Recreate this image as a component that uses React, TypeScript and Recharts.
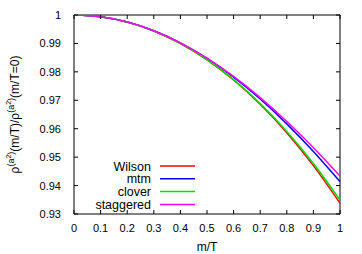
import React from "react";
import { LineChart, Line, XAxis, YAxis, ReferenceArea, Legend } from "recharts";

const mOverT = [0, 0.1, 0.2, 0.3, 0.4, 0.5, 0.6, 0.7, 0.8, 0.9, 1.0];
const wilson = [1, 0.99938, 0.99751, 0.99439, 0.98997, 0.98424, 0.97714, 0.96861, 0.9586, 0.94702, 0.9338];
const mtm = [1, 0.99938, 0.99753, 0.99445, 0.99017, 0.98471, 0.97812, 0.97044, 0.96171, 0.95201, 0.9414];
const clover = [1, 0.99938, 0.99751, 0.99439, 0.99, 0.98431, 0.97728, 0.96888, 0.95905, 0.94775, 0.9349];
const staggered = [1, 0.99938, 0.99753, 0.99446, 0.99022, 0.98484, 0.97838, 0.97092, 0.96253, 0.95332, 0.9434];

const xTicks = [0, 0.1, 0.2, 0.3, 0.4, 0.5, 0.6, 0.7, 0.8, 0.9, 1];
const xTickLabels = ["0", "0.1", "0.2", "0.3", "0.4", "0.5", "0.6", "0.7", "0.8", "0.9", "1"];
const yTicks = [0.93, 0.94, 0.95, 0.96, 0.97, 0.98, 0.99, 1];
const yTickLabels = ["0.93", "0.94", "0.95", "0.96", "0.97", "0.98", "0.99", "1"];

const series = [
  { key: "Wilson", values: wilson, color: "#ff0000" },
  { key: "mtm", values: mtm, color: "#0000ff" },
  { key: "clover", values: clover, color: "#00e000" },
  { key: "staggered", values: staggered, color: "#ff00ff" },
];

const data = mOverT.map((x, i) => {
  const row: Record<string, number> = { x };
  series.forEach((s) => (row[s.key] = s.values[i]));
  return row;
});

const W = 362;
const H = 254;
const PL = 74;
const PR = 340;
const PT = 15;
const PB = 214;
const FONT = "'Liberation Sans', Arial, sans-serif";
const TICK = 4;

const XTick = (props: any) => {
  const { x, payload } = props;
  const i = xTicks.indexOf(payload.value);
  const label = i >= 0 ? xTickLabels[i] : String(payload.value);
  return (
    <g>
      <line x1={x} x2={x} y1={PB} y2={PB - TICK} stroke="#000" />
      <line x1={x} x2={x} y1={PT} y2={PT + TICK} stroke="#000" />
      <text x={x} y={PB + 18} textAnchor="middle" fontSize={11} fontFamily={FONT} fill="#000">
        {label}
      </text>
    </g>
  );
};

const YTick = (props: any) => {
  const { y, payload } = props;
  const i = yTicks.indexOf(payload.value);
  const label = i >= 0 ? yTickLabels[i] : String(payload.value);
  return (
    <g>
      <line x1={PL} x2={PL + TICK} y1={y} y2={y} stroke="#000" />
      <line x1={PR} x2={PR - TICK} y1={y} y2={y} stroke="#000" />
      <text x={PL - 13} y={y + 4} textAnchor="end" fontSize={11} fontFamily={FONT} fill="#000">
        {label}
      </text>
    </g>
  );
};

const ROW = 12.8;
const renderLegend = () => (
  <svg width={130} height={56} style={{ display: "block" }}>
    {series.map((s, i) => {
      const cy = 7 + i * ROW;
      return (
        <g key={s.key}>
          <text x={72} y={cy + 4.5} textAnchor="end" fontSize={12.5} fontFamily={FONT} fill="#000">
            {s.key}
          </text>
          <line x1={81} x2={116} y1={cy} y2={cy} stroke={s.color} strokeWidth={1.5} />
        </g>
      );
    })}
  </svg>
);

const YLabel = () => (
  <text
    transform={`translate(19, ${(PT + PB) / 2}) rotate(-90)`}
    textAnchor="middle"
    fontSize={12}
    fontFamily={FONT}
    fill="#000"
  >
    <tspan>ρ</tspan>
    <tspan fontSize={9} dy={-5}>(a</tspan>
    <tspan fontSize={7} dy={-3}>2</tspan>
    <tspan fontSize={9} dy={3}>)</tspan>
    <tspan dy={5}>(m/T)/ρ</tspan>
    <tspan fontSize={9} dy={-5}>(a</tspan>
    <tspan fontSize={7} dy={-3}>2</tspan>
    <tspan fontSize={9} dy={3}>)</tspan>
    <tspan dy={5}>(m/T=0)</tspan>
  </text>
);

export default function App() {
  return (
    <div style={{ position: "fixed", left: 0, top: 0, width: W, height: H, background: "#fff" }}>
      <LineChart width={W} height={H} data={data} margin={{ top: PT, right: W - PR, left: 0, bottom: 0 }}>
        <XAxis
          dataKey="x"
          type="number"
          domain={[0, 1]}
          ticks={xTicks}
          tick={<XTick />}
          tickLine={false}
          axisLine={false}
          height={H - PB}
          interval={0}
        />
        <YAxis
          type="number"
          domain={[0.93, 1]}
          ticks={yTicks}
          tick={<YTick />}
          tickLine={false}
          axisLine={false}
          width={PL}
          interval={0}
          allowDataOverflow
        />
        <ReferenceArea x1={0} x2={1} y1={0.93} y2={1} fill="none" stroke="#000" strokeWidth={1} />
        {series.map((s) => (
          <Line
            key={s.key}
            dataKey={s.key}
            type="monotone"
            stroke={s.color}
            strokeWidth={1.5}
            dot={false}
            isAnimationActive={false}
          />
        ))}
        <Legend
          layout="vertical"
          align="center"
          verticalAlign="middle"
          content={renderLegend}
          wrapperStyle={{ position: "absolute", left: 79, top: 159, width: 130 }}
        />
        <text x={(PL + PR) / 2} y={PB + 37} textAnchor="middle" fontSize={12} fontFamily={FONT} fill="#000">
          m/T
        </text>
        <YLabel />
      </LineChart>
    </div>
  );
}
